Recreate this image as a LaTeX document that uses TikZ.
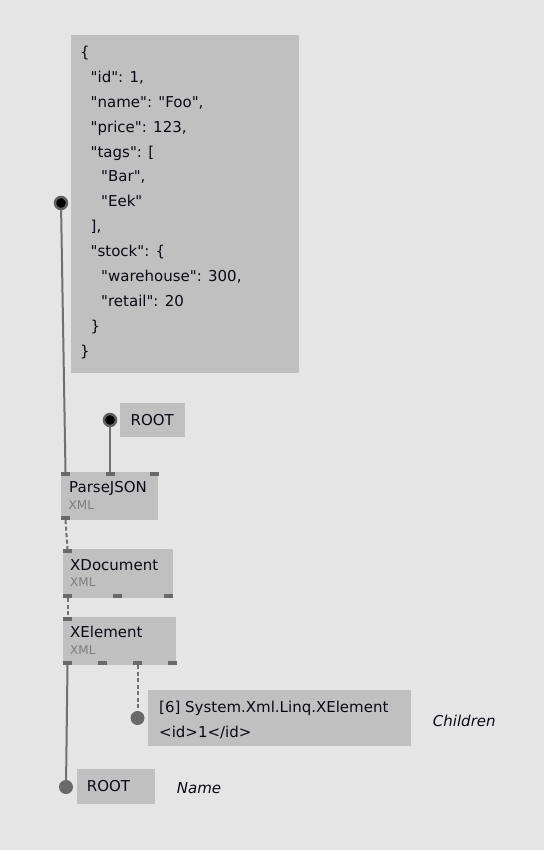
\documentclass[tikz,border=0pt]{standalone}
\usepackage{fontspec}
\setmainfont{DejaVu Sans}
\definecolor{bggray}{RGB}{229,229,229}
\definecolor{boxgray}{RGB}{192,192,192}
\definecolor{portgray}{RGB}{105,105,105}
\definecolor{wiregray}{RGB}{112,112,112}
\definecolor{ringgray}{RGB}{96,96,96}
\definecolor{subgray}{RGB}{125,125,125}
\definecolor{inkgray}{RGB}{10,10,20}
\newcommand\jq{\textquotedbl}

\begin{document}
\begin{tikzpicture}[x=1pt,y=-1pt,
    box/.style={fill=boxgray, inner sep=0, anchor=north west},
    port/.style={fill=portgray, inner sep=0, minimum width=9pt, minimum height=4pt},
    title/.style={anchor=base west, inner sep=0, text=inkgray, font=\fontsize{15}{17}\selectfont},
    code/.style={title},
    sub/.style={anchor=base west, inner sep=0, text=subgray, font=\fontsize{12}{13}\selectfont},
    note/.style={anchor=base west, inner sep=0, text=inkgray, font=\fontsize{15}{17}\selectfont\itshape},
    wire/.style={draw=wiregray, line width=2pt},
    dashwire/.style={draw=wiregray, line width=2pt, dash pattern=on 4pt off 2.5pt},
    inpin/.style={circle, fill=black, draw=ringgray, line width=2.5pt, minimum size=12pt, inner sep=0},
    outpin/.style={circle, fill=portgray, minimum size=14pt, inner sep=0}]
  \fill[bggray] (0,0) rectangle (544,850);
  \useasboundingbox (0,0) rectangle (544,850);

  \node[box, minimum width=228pt, minimum height=338pt] (json) at (71,35) {};
  \node[box, minimum width=65pt, minimum height=34pt] (roottop) at (120,403) {};
  \node[box, minimum width=97pt, minimum height=48pt] (parse) at (61,472) {};
  \node[box, minimum width=110pt, minimum height=49pt] (xdoc) at (63,549) {};
  \node[box, minimum width=113pt, minimum height=48pt] (xelem) at (63,617) {};
  \node[box, minimum width=263pt, minimum height=56pt] (result) at (148,690) {};
  \node[box, minimum width=78pt, minimum height=35pt] (rootbot) at (77,769) {};

  \foreach \lvl/\txt [count=\i from 0] in {0/{\{}, 1/{\jq id\jq: 1,},
      1/{\jq name\jq: \jq Foo\jq,}, 1/{\jq price\jq: 123,}, 1/{\jq tags\jq: [},
      2/{\jq Bar\jq,}, 2/{\jq Eek\jq}, 1/{],}, 1/{\jq stock\jq: \{},
      2/{\jq warehouse\jq: 300,}, 2/{\jq retail\jq: 20}, 1/{\}}, 0/{\}}}
    \node[code] (json-l\i) at (80+10.5*\lvl, 57.5+24.9*\i) {\txt};

  \node[port] (parse-in1) at (65.5,474) {};
  \node[port] (parse-in2) at (110,474) {};
  \node[port] (parse-in3) at (154.5,474) {};
  \node[port] (parse-out1) at (65.5,518) {};
  \node[port] (xdoc-in1) at (67.5,551) {};
  \node[port] (xdoc-out1) at (67.5,596) {};
  \node[port] (xdoc-out2) at (117.5,596) {};
  \node[port] (xdoc-out3) at (168.5,596) {};
  \node[port] (xelem-in1) at (67.5,619) {};
  \node[port] (xelem-out1) at (67.5,663) {};
  \node[port] (xelem-out2) at (102,663) {};
  \node[port] (xelem-out3) at (137.5,663) {};
  \node[port] (xelem-out4) at (172,663) {};

  \node[inpin] (jsonpin) at (61,203) {};
  \node[inpin] (rootpin) at (110,420) {};
  \node[outpin] (childpin) at (137.5,718) {};
  \node[outpin] (namepin) at (66,787) {};

  \draw[wire] (jsonpin) -- (parse-in1.north);
  \draw[wire] (rootpin) -- (parse-in2.north);
  \draw[dashwire] (parse-out1.south) -- (xdoc-in1.north);
  \draw[dashwire] (xdoc-out1.south) -- (xelem-in1.north);
  \draw[wire] (xelem-out1.south) -- (namepin);
  \draw[dashwire] (xelem-out3.south) -- (childpin);

  \node[title] (roottop-t) at (130.5,425) {ROOT};
  \node[title] (parse-t) at (69,492.3) {ParseJSON};
  \node[sub] (parse-s) at (68.5,509.3) {XML};
  \node[title] (xdoc-t) at (70,570) {XDocument};
  \node[sub] (xdoc-s) at (70,586.7) {XML};
  \node[title] (xelem-t) at (70,637.7) {XElement};
  \node[sub] (xelem-s) at (70,654) {XML};
  \node[title] (result-t1) at (159,712.7) {[6] System.Xml.Linq.XElement};
  \node[title] (result-t2) at (159,737.3) {<id>1</id>};
  \node[note] (children) at (432.7,726) {Children};
  \node[title] (rootbot-t) at (86.7,791.7) {ROOT};
  \node[note] (name) at (176.7,793.3) {Name};
\end{tikzpicture}
\end{document}
